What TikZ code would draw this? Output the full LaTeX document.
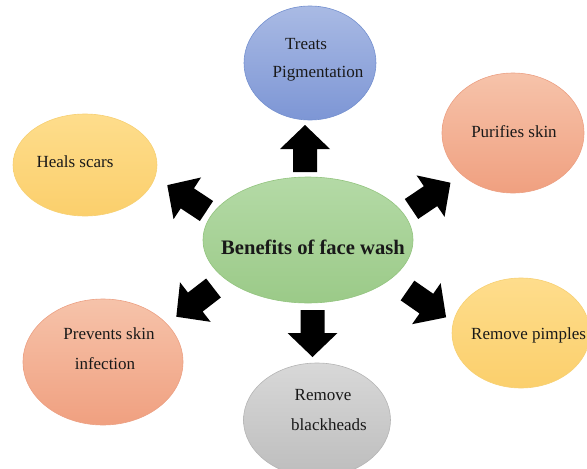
\documentclass[tikz,border=0pt]{standalone}
\usepackage{fontspec}
\setmainfont{Liberation Serif}
\usetikzlibrary{shapes.geometric}
\definecolor{blueT}{HTML}{A9BAE4}
\definecolor{blueB}{HTML}{7D96D5}
\definecolor{blueD}{HTML}{7490CF}
\definecolor{salT}{HTML}{F6C3AA}
\definecolor{salB}{HTML}{F0A080}
\definecolor{salD}{HTML}{ECA083}
\definecolor{yelT}{HTML}{FEDD8C}
\definecolor{yelB}{HTML}{FBCF6C}
\definecolor{yelD}{HTML}{F7D073}
\definecolor{grnT}{HTML}{B4DAA6}
\definecolor{grnB}{HTML}{9BCA88}
\definecolor{grnD}{HTML}{93C47F}
\definecolor{gryT}{HTML}{D8D8D8}
\definecolor{gryB}{HTML}{BDBDBD}
\definecolor{gryD}{HTML}{B5B5B5}
\tikzset{
  bubble/.style={ellipse, inner sep=0pt, line width=0.6pt},
  txt/.style={inner sep=0pt, font=\fontsize{17}{20}\selectfont, text=black!90},
  arrowshape/.style={fill=black},
}
\newcommand\blockarrow[3]{%
  \begin{scope}[shift={(#1,#2)}, rotate=#3]
    \fill[arrowshape] (0,-12) -- (23,-12) -- (23,-25) -- (47,0) -- (23,25) -- (23,12) -- (0,12) -- cycle;
  \end{scope}}
\begin{document}
\begin{tikzpicture}[x=1pt, y=-1pt]
\useasboundingbox (0,0) rectangle (587,469);
\begin{scope}
\clip (0,0) rectangle (587,469);
% bubbles
\node[bubble, draw=blueD, top color=blueT, bottom color=blueB, minimum width=132pt, minimum height=114pt] (treat) at (310,63) {};
\node[bubble, draw=salD, top color=salT, bottom color=salB, minimum width=142pt, minimum height=120pt] (purify) at (513,133) {};
\node[bubble, draw=yelD, top color=yelT, bottom color=yelB, minimum width=144pt, minimum height=102pt] (heal) at (85,165) {};
\node[bubble, draw=grnD, top color=grnT, bottom color=grnB, minimum width=210pt, minimum height=126pt] (center) at (308,240) {};
\node[bubble, draw=salD, top color=salT, bottom color=salB, minimum width=160pt, minimum height=126pt] (prevent) at (103,362) {};
\node[bubble, draw=gryD, top color=gryT, bottom color=gryB, minimum width=147pt, minimum height=114pt] (black) at (317,420) {};
\node[bubble, draw=yelD, top color=yelT, bottom color=yelB, minimum width=138pt, minimum height=110pt] (pimple) at (521,333) {};
% texts
\node[txt] (t1a) at (306,44) {Treats};
\node[txt] (t1b) at (318,74) {Pigmentation};
\node[txt] (t2) at (514,132) {Purifies skin};
\node[txt] (t3) at (75,162) {Heals scars};
\node[inner sep=0pt, font=\fontsize{20.6}{24}\selectfont\bfseries, text=black!90] (t0) at (313,247) {Benefits of face wash};
\node[txt] (t4a) at (109,334) {Prevents skin};
\node[txt] (t4b) at (105,364) {infection};
\node[txt] (t5a) at (323,395) {Remove};
\node[txt] (t5b) at (329,425) {blackheads};
\node[txt, anchor=west] (t6) at (471,335) {Remove pimples};
\end{scope}
% block arrows
\blockarrow{305}{172}{90}
\blockarrow{312.5}{310}{-90}
\blockarrow{206.5}{211}{146.6}
\blockarrow{411.5}{209}{34}
\blockarrow{213.5}{288}{217.7}
\blockarrow{407.5}{290.5}{-34.8}
\end{tikzpicture}
\end{document}
